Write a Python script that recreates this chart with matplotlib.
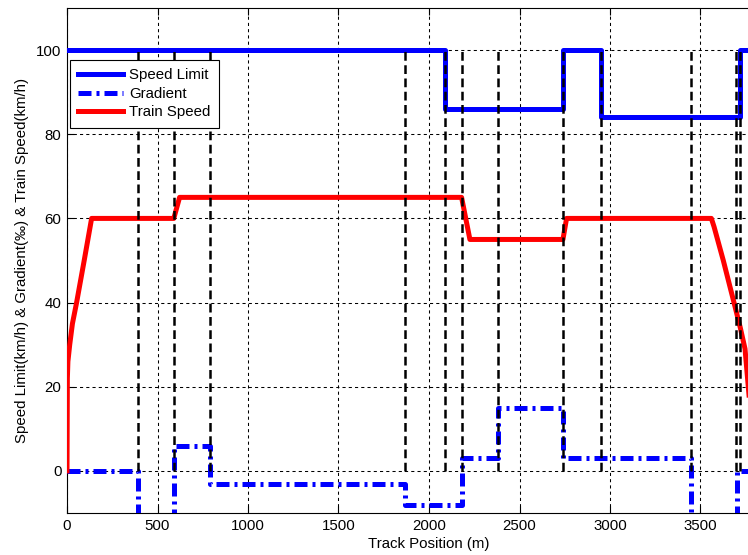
import matplotlib
matplotlib.use("Agg")
import matplotlib.pyplot as plt

plt.rcParams['font.family'] = ['Liberation Sans', 'DejaVu Sans']
plt.rcParams['font.size'] = 10.8

# Speed limit profile (step changes at these positions)
limit_pos = [0, 2090, 2740, 2950, 3720, 4000]
limit_val = [100, 86, 100, 84, 100, 100]

# Track gradient (per mille), piecewise constant
grad_pos = [0, 390, 590, 790, 1870, 2180, 2380, 2740, 3450, 3700, 4000]
grad_val = [0, -12, 6, -3, -8, 3, 15, 3, -12, 0, 0]

# Simulated train speed trajectory
speed_pos = [0, 2, 5, 15, 30, 53, 95, 136, 590, 622, 2180, 2226, 2740, 2760,
             3560, 3575, 3626, 3691, 3720, 3746, 3762, 3780, 3795]
speed_val = [0, 22, 26, 30, 35, 40, 50, 60, 60, 65, 65, 55, 55, 60,
             60, 58, 50, 39, 34, 29, 21, 12, 0]

# Section boundaries marked with vertical dashed lines
section_pos = [390, 590, 790, 1870, 2090, 2180, 2380, 2740, 2950, 3450, 3695, 3718]

x_ticks = [0, 500, 1000, 1500, 2000, 2500, 3000, 3500]
y_ticks = [0, 20, 40, 60, 80, 100]

W, H = 748, 555
fig = plt.figure(figsize=(W / 100, H / 100), dpi=100)
left, right_px, top, bottom = 67, 67 + 724, 8, 513
ax = fig.add_axes([left / W, (H - bottom) / H, (right_px - left) / W, (bottom - top) / H])

lw = 3.6
ax.step(limit_pos, limit_val, where='post', color='blue', lw=lw,
        label='Speed Limit', zorder=3)
ax.step(grad_pos, grad_val, where='post', color='blue', lw=lw,
        linestyle=(0, (2.6, 1.0, 0.6, 1.0)), label='Gradient', zorder=3)
ax.plot(speed_pos, speed_val, color='red', lw=lw, label='Train Speed', zorder=3)
ax.vlines(section_pos, 0, 100, colors='black', lw=1.8,
          linestyles=[(0, (3.5, 1.8))], zorder=4)

ax.set_xlim(0, 4000)
ax.set_ylim(-10, 110)
ax.set_xticks(x_ticks)
ax.set_yticks(y_ticks)
ax.grid(True, color='black', lw=0.75, linestyle=(0, (3, 3)))
ax.tick_params(direction='in', top=True, right=True, length=5, width=0.8,
               labelsize=10.8, pad=4)
for s in ax.spines.values():
    s.set_linewidth(0.8)

ax.set_xlabel('Track Position (m)', fontsize=10.8, labelpad=3)
ax.set_ylabel('Speed Limit(km/h) & Gradient(‰) & Train Speed(km/h)',
              fontsize=10.8, labelpad=5)

leg = ax.legend(loc='upper left', bbox_to_anchor=(3 / 724, (513 - 60) / 505),
                borderaxespad=0, fancybox=False, framealpha=1,
                edgecolor='black', handlelength=3.0, handletextpad=0.4,
                labelspacing=0.3, borderpad=0.55, fontsize=10.8)
leg.get_frame().set_linewidth(0.8)

fig.savefig('out.png', dpi=100)
